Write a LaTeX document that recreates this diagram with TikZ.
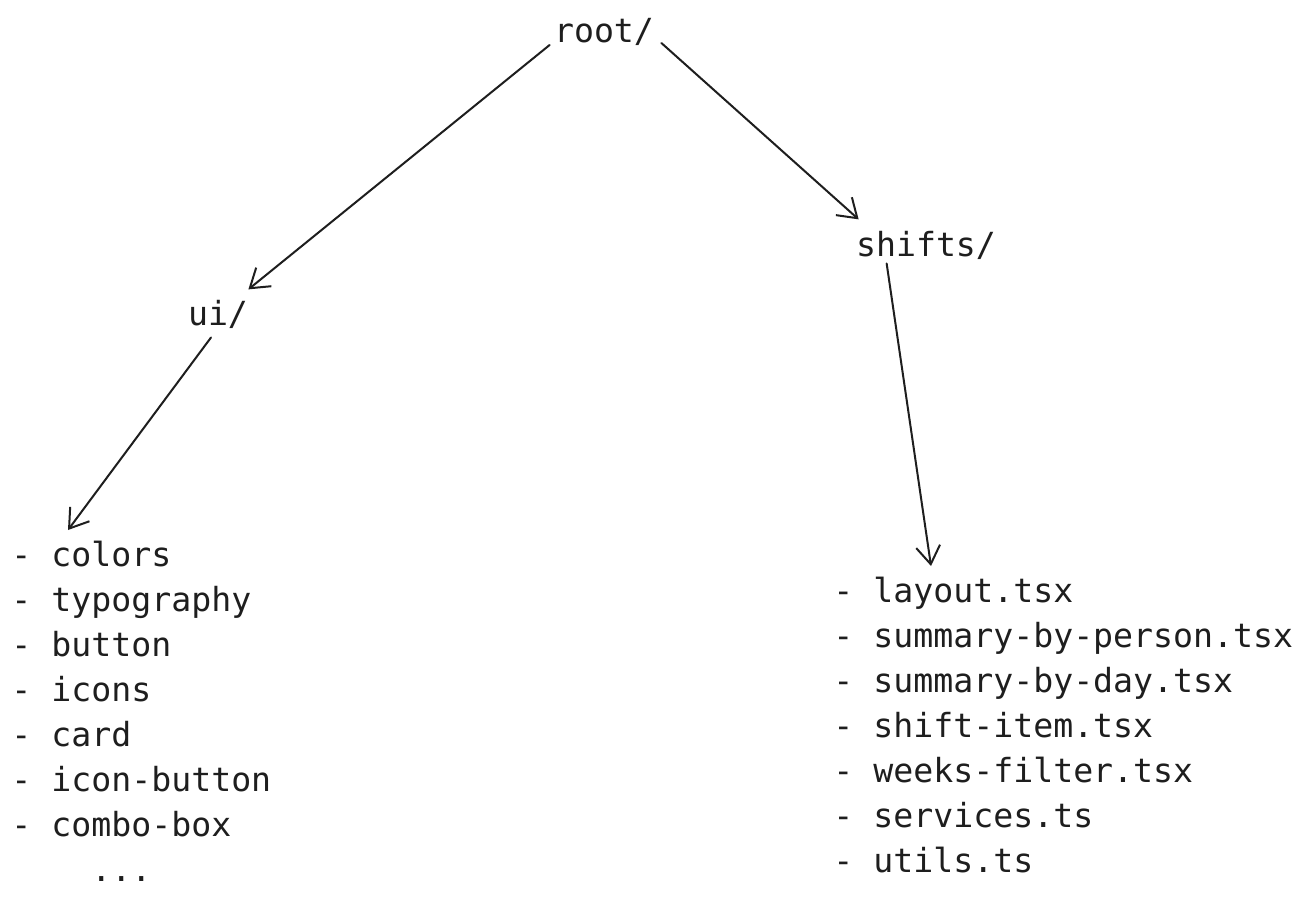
\documentclass[tikz,border=0pt]{standalone}
\usepackage{fontspec}
\setmonofont{DejaVu Sans Mono}
\usetikzlibrary{arrows.meta}
\definecolor{ink}{HTML}{1E1E1E}
\tikzset{
  dirname/.style={font=\ttfamily\fontsize{16.6}{22.5}\selectfont, text=ink, inner sep=0pt},
  filelist/.style={dirname, align=left, anchor=north west},
  link/.style={draw=ink, line width=1pt, line cap=round,
    -{Straight Barb[length=9pt, width=12pt, line width=1pt]}}
}
\begin{document}
\begin{tikzpicture}[x=0.5pt,y=-0.5pt]
        \useasboundingbox (0,0) rectangle (1300,904);
        \node[dirname, anchor=base] (root) at (604,43) {root/};
        \node[dirname, anchor=base] (ui) at (218,325) {ui/};
        \node[dirname, anchor=base] (shifts) at (926,256) {shifts/};
        \node[filelist] (uifiles) at (11,541) {- colors\\- typography\\- button\\- icons\\- card\\- icon-button\\- combo-box\\\phantom{xxxx}...};
        \node[filelist] (shiftfiles) at (833,577) {- layout.tsx\\- summary-by-person.tsx\\- summary-by-day.tsx\\- shift-item.tsx\\- weeks-filter.tsx\\- services.ts\\- utils.ts};
        \draw[link] ([shift={(-4,2)}]root.base west) -- ([shift={(0,-10)}]ui.north east);
        \draw[link] ([shift={(7,0)}]root.base east) -- ([shift={(3,-11)}]shifts.north west);
        \draw[link] ([shift={(-7,9)}]ui.south) -- ([shift={(57,-11)}]uifiles.north west);
        \draw[link] ([shift={(31,4)}]shifts.south west) -- ([shift={(98,-11)}]shiftfiles.north west);
     \end{tikzpicture}
\end{document}
